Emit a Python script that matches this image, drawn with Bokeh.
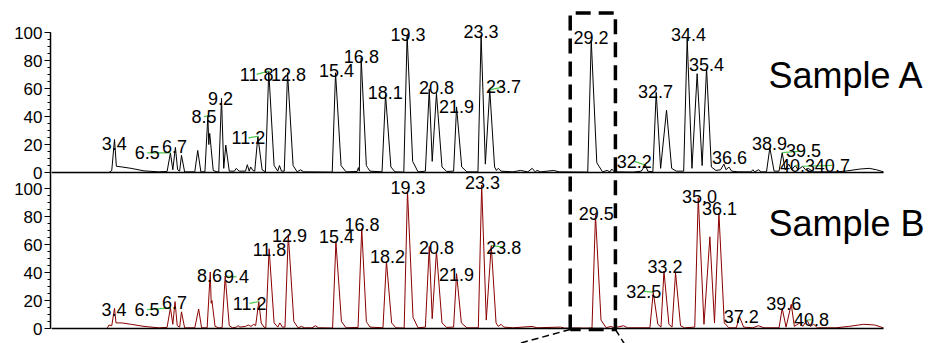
from bokeh.plotting import figure
from bokeh.models import Range1d, FixedTicker, CustomJSTickFormatter
from bokeh.core.properties import value
from bokeh.embed import file_html
from bokeh.resources import INLINE

# ---------------- data (retention time in min, relative intensity in %) ----------------
trace_a = [(0.0, 0), (3.1, 0), (3.25, 1.5), (3.4, 23.6), (3.5, 4.5), (3.8, 4), (4.3, 3), (5.0, 1.2), (5.8, 0.5),
           (6.25, 0.8), (6.43, 14), (6.56, 2), (6.7, 18), (6.82, 2), (6.93, 1), (7.03, 12.3), (7.2, 0.5),
           (7.75, 0.5), (7.91, 15.8), (8.08, 0.5), (8.3, 0.5), (8.46, 40.6), (8.51, 20), (8.56, 28),
           (8.75, 1.5), (8.95, 0.5), (9.05, 0.5), (9.2, 53), (9.32, 3), (9.43, 19.6), (9.62, 1), (9.9, 1),
           (10.0, 3), (10.15, 1), (10.5, 1), (10.6, 5.6), (10.7, 1), (10.78, 4), (10.9, 1.5), (11.0, 1),
           (11.17, 25.9), (11.4, 2), (11.58, 0.5), (11.76, 72.5), (12.05, 5), (12.25, 1), (12.34, 5),
           (12.45, 1), (12.6, 1), (12.78, 71.3), (13.08, 5), (13.3, 0.5), (13.48, 2), (13.65, 0.5),
           (15.2, 0.3), (15.38, 71.3), (15.68, 5), (15.95, 0.5), (16.55, 0.8), (16.62, 3.5), (16.67, 1),
           (16.77, 81.8), (17.05, 5), (17.12, 3.5), (17.25, 1), (17.9, 0.5), (18.09, 55.7), (18.38, 4),
           (18.6, 0.5), (19.08, 0.3), (19.26, 98.1), (19.56, 8), (19.85, 0.5), (20.25, 1), (20.46, 59.7),
           (20.62, 8), (20.85, 56.6), (21.15, 4), (21.4, 0.8), (21.78, 1), (21.94, 46.9), (22.22, 4),
           (22.5, 0.5), (23.1, 0.5), (23.27, 98.1), (23.5, 6), (23.74, 59), (24.0, 4), (24.1, 1.5),
           (24.2, 3), (24.35, 1), (25.0, 0.5), (25.4, 1.5), (25.8, 0.5), (26.04, 3), (26.2, 0.5),
           (26.3, 1.5), (26.5, 0.5), (27.2, 1.5), (27.5, 0.5), (29.05, 0.3), (29.24, 94.6), (29.54, 7),
           (29.85, 0.5), (30.1, 1.5), (30.25, 0.5), (30.35, 2.5), (30.5, 0.5), (31.5, 0.3), (31.95, 1),
           (32.18, 5.4), (32.3, 1), (32.58, 0.5), (32.76, 57.3), (33.0, 3), (33.32, 44.5), (33.6, 3),
           (33.85, 1), (34.25, 1), (34.44, 95.8), (34.7, 3), (34.98, 70.6), (35.25, 5), (35.49, 74.8),
           (35.75, 4), (36.0, 1.5), (36.25, 2), (36.43, 6), (36.55, 2), (36.7, 4), (36.85, 1), (37.2, 0.5),
           (37.9, 0.5), (38.0, 2), (38.1, 0.5), (38.3, 2), (38.45, 0.5), (38.74, 0.5), (38.92, 17.7),
           (39.15, 1), (39.42, 1), (39.59, 14.2), (39.75, 2), (39.95, 6), (40.1, 2), (40.3, 5), (40.45, 2),
           (40.7, 4.5), (40.85, 2), (41.0, 3), (41.3, 0.5), (42.5, 0.5), (43.0, 1), (43.8, 2.5), (44.3, 3),
           (44.7, 2), (45.08, 0.5)]

trace_b = [(0.0, 0), (3.0, 0), (3.1, 2.5), (3.25, 2), (3.4, 14.4), (3.48, 4), (3.8, 4), (4.3, 3), (5.0, 1.5),
           (5.8, 0.5), (6.25, 0.8), (6.43, 14.8), (6.56, 3), (6.68, 19.2), (6.8, 2), (6.93, 1), (7.03, 11.9),
           (7.2, 0.5), (7.75, 0.5), (7.96, 13.9), (8.12, 0.5), (8.42, 0.5), (8.59, 40.4), (8.64, 18),
           (8.68, 20), (8.85, 1.5), (9.05, 0.5), (9.23, 0.5), (9.4, 37.5), (9.62, 2), (9.8, 0.5), (10.0, 1),
           (10.1, 2), (10.2, 1), (10.5, 1.5), (10.65, 2.5), (10.8, 1.5), (10.95, 3), (11.05, 2),
           (11.22, 19.2), (11.35, 4), (11.5, 1), (11.6, 0.5), (11.78, 57), (12.05, 4), (12.25, 1),
           (12.36, 4), (12.5, 1), (12.64, 1), (12.82, 67.2), (13.12, 5), (13.35, 0.5), (13.53, 1.5),
           (13.7, 0.5), (14.1, 0.5), (14.29, 2), (14.45, 0.5), (15.22, 0.3), (15.4, 61.8), (15.7, 5),
           (15.95, 0.5), (16.6, 0.8), (16.8, 71.5), (17.05, 5), (17.12, 3.5), (17.25, 1), (17.95, 0.5),
           (18.14, 48), (18.42, 4), (18.65, 0.5), (19.1, 0.3), (19.28, 98.3), (19.58, 8), (19.85, 0.5),
           (20.25, 1), (20.46, 58.6), (20.62, 7), (20.85, 55.3), (21.15, 4), (21.4, 0.8), (21.78, 1),
           (21.94, 39.2), (22.2, 4), (22.5, 0.5), (23.12, 0.5), (23.3, 102.4), (23.55, 6), (23.82, 59.3),
           (24.08, 4), (24.2, 1.5), (24.35, 3), (24.5, 1), (25.0, 0.5), (26.04, 1.5), (26.3, 0.5),
           (27.57, 1), (27.8, 0.3), (29.28, 0.3), (29.47, 81.2), (29.77, 6), (30.05, 0.5), (30.3, 1.5),
           (30.5, 0.5), (30.99, 2), (31.2, 0.5), (32.42, 0.5), (32.6, 26), (32.85, 3), (33.02, 1),
           (33.18, 41), (33.45, 3), (33.62, 1), (33.81, 39.9), (34.08, 2), (34.3, 0.5), (34.85, 1),
           (35.04, 93.4), (35.35, 3), (35.67, 65.5), (35.92, 4), (36.16, 82.5), (36.45, 4), (36.7, 0.5),
           (37.1, 0.5), (37.28, 8.3), (37.5, 1), (38.0, 0.5), (38.3, 2), (38.6, 0.5), (39.42, 0.5),
           (39.59, 14.4), (39.8, 1), (40.08, 17.3), (40.25, 1.5), (40.58, 4.4), (40.7, 1.5), (40.94, 6),
           (41.1, 1.5), (41.3, 3), (41.5, 0.5), (42.5, 0.5), (43.2, 1.5), (44.0, 3), (44.6, 2.5),
           (45.08, 0.5)]

time_a = [t for t, _ in trace_a]
signal_a = [v for _, v in trace_a]
time_b = [t for t, _ in trace_b]
signal_b = [v for _, v in trace_b]

# peak annotations: label text, label anchor (time, intensity)
labels_a = ["3.4", "6.5", "6.7", "8.5", "9.2", "11.2", "11.8", "12.8", "15.4", "16.8", "18.1", "19.3",
            "20.8", "21.9", "23.3", "23.7", "29.2", "32.2", "32.7", "34.4", "35.4", "36.6", "38.9",
            "39.5", "40.3", "40.7"]
label_t_a = [3.38, 5.17, 6.65, 8.25, 9.15, 10.66, 11.1, 12.83, 15.43, 16.78, 18.07, 19.31,
             20.85, 21.94, 23.26, 24.48, 29.23, 31.57, 32.72, 34.51, 35.49, 36.73, 38.9,
             40.74, 40.42, 42.31]
label_i_a = [21.0, 14.0, 18.9, 39.9, 52.7, 24.8, 70.1, 70.1, 73.1, 83.0, 57.1, 98.7,
             60.8, 46.9, 100.5, 61.2, 96.3, 8.0, 58.0, 98.8, 77.1, 10.5, 20.5,
             15.4, 5.1, 5.1]
# leader lines: label -> labelled peak apex (time, intensity)
leader_label_a = ["6.5", "8.5", "11.2", "11.8", "23.7", "32.2", "39.5", "40.3", "40.7"]
leader_t_a = [6.43, 8.46, 11.17, 11.76, 23.74, 32.18, 39.59, 40.3, 40.7]
leader_i_a = [14.0, 40.6, 25.9, 72.5, 59.0, 5.4, 14.2, 5.0, 4.5]

labels_b = ["3.4", "6.5", "6.7", "8.6", "9.4", "11.2", "11.8", "12.9", "15.4", "16.8", "18.2", "19.3",
            "20.8", "21.9", "23.3", "23.8", "29.5", "32.5", "33.2", "35.0", "36.1", "37.2", "39.6", "40.8"]
label_t_b = [3.37, 5.16, 6.65, 8.55, 10.01, 10.72, 11.8, 12.89, 15.43, 16.81, 18.2, 19.31,
             20.85, 21.94, 23.35, 24.5, 29.51, 32.09, 33.24, 35.11, 36.19, 37.37, 39.68, 41.18]
label_i_b = [13.5, 13.5, 18.5, 38.0, 36.9, 18.0, 56.4, 66.6, 65.8, 74.5, 51.1, 100.7,
             58.2, 38.3, 104.0, 58.2, 81.8, 26.5, 44.3, 94.3, 85.5, 8.8, 18.0, 6.4]
leader_label_b = ["6.5", "9.4", "11.2", "23.8", "32.5", "40.8"]
leader_t_b = [6.43, 9.4, 11.22, 23.82, 32.6, 40.94]
leader_i_b = [14.8, 37.5, 19.2, 59.3, 26.0, 6.0]

sample_names = ["Sample A", "Sample B"]
y_ticks = [0, 20, 40, 60, 80, 100]

# ---------------- layout constants ----------------
OFFSET = 111.4            # vertical shift of the upper (Sample A) trace
ZOOM_T = (28.1, 30.55)    # highlighted retention-time window
RECT_BOTTOM, RECT_TOP = -0.7, 114.0
CONNECT_T = (25.24, 31.04)
FONT = value("Liberation Sans")

p = figure(width=928, height=343, output_backend="svg", toolbar_location=None,
           x_range=Range1d(-0.07, 47.52), y_range=Range1d(-10.71, 234.3),
           min_border_left=50, min_border_right=0, min_border_top=0, min_border_bottom=0)
p.xaxis.visible = False
p.grid.visible = False
p.outline_line_color = None
p.background_fill_color = "white"
p.border_fill_color = "white"

major = [v for v in y_ticks] + [OFFSET + v for v in y_ticks]
minor = [v for v in range(0, 101, 5)] + [OFFSET + v for v in range(0, 101, 5)]
p.yaxis.ticker = FixedTicker(ticks=major, minor_ticks=minor)
p.yaxis.formatter = CustomJSTickFormatter(args=dict(off=OFFSET),
    code="const v = tick > off - 5 ? tick - off : tick; return Math.round(v).toString();")
p.yaxis.bounds = (0, OFFSET + max(y_ticks))
p.yaxis.axis_line_width = 1.5
p.yaxis.axis_line_color = "black"
p.yaxis.major_tick_in = 0
p.yaxis.major_tick_out = 6
p.yaxis.minor_tick_in = 0
p.yaxis.minor_tick_out = 3
p.yaxis.major_tick_line_color = "black"
p.yaxis.minor_tick_line_color = "black"
p.yaxis.major_label_text_font = "Liberation Sans"
p.yaxis.major_label_text_font_size = "17px"
p.yaxis.major_label_text_color = "black"
p.yaxis.major_label_standoff = 2

# traces
p.line(time_a, [v + OFFSET for v in signal_a], line_color="black", line_width=1)
p.line(time_b, signal_b, line_color="#8b0000", line_width=1)

# baselines (x axis lines)
t0, t1 = min(time_a), max(time_a)
p.line([t0, t1], [OFFSET, OFFSET], line_color="black", line_width=1.5)
p.line([t0, t1], [0, 0], line_color="black", line_width=1.5)

# leader lines
def leaders(lbls, lt, li, names, pt, pi, off):
    idx = [lbls.index(n) for n in names]
    p.segment(x0=[lt[i] for i in idx], y0=[li[i] + off for i in idx],
              x1=pt, y1=[v + off for v in pi], line_color="#4cc94c", line_width=1.2)

leaders(labels_a, label_t_a, label_i_a, leader_label_a, leader_t_a, leader_i_a, OFFSET)
leaders(labels_b, label_t_b, label_i_b, leader_label_b, leader_t_b, leader_i_b, 0)

# peak labels
p.text(x=label_t_a, y=[v + OFFSET for v in label_i_a], text=labels_a, text_align="center",
       text_baseline="middle", text_font=FONT, text_font_size="18px", text_color="black")
p.text(x=label_t_b, y=label_i_b, text=labels_b, text_align="center",
       text_baseline="middle", text_font=FONT, text_font_size="18px", text_color="black")

# sample names
p.text(x=[38.85, 38.85], y=[OFFSET + 69.2, 75.2], text=sample_names, text_align="left",
       text_baseline="alphabetic", text_font=FONT, text_font_size="36px", text_color="black")

# highlight window
xa, xb = ZOOM_T
top = OFFSET + RECT_TOP
p.line([xa, xa, xb, xb, xa], [RECT_BOTTOM, top, top, RECT_BOTTOM, RECT_BOTTOM],
       line_color="black", line_width=3.5, line_dash="15 8")
p.segment(x0=[xa, xb], y0=[RECT_BOTTOM, RECT_BOTTOM], x1=list(CONNECT_T), y1=[-11, -11],
          line_color="black", line_width=1.5, line_dash="7 4")

open("out.html", "w").write(file_html(p, INLINE))
